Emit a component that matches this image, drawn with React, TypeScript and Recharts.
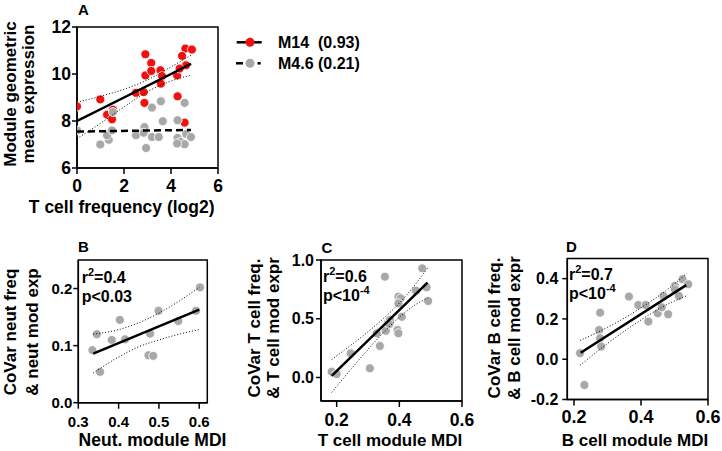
import React from "react";
import { ComposedChart, Scatter, XAxis, YAxis, ReferenceArea } from "recharts";

const FONT = '"Liberation Sans", Arial, Helvetica, sans-serif';
const RED = "#f2100f";
const GRAY = "#a8a8a8";

// A: module expression vs T cell frequency
const m14X = [0, 0.99, 1.28, 1.49, 1.53, 2.51, 2.84, 2.87, 2.91, 2.91, 3.16, 3.16, 3.55, 3.62, 3.57, 4.26, 4.28, 4.58, 4.61, 4.89, 4.47, 4.64, 4.37];
const m14Y = [8.62, 8.92, 8.27, 8.07, 8.48, 9.2, 9.23, 8.77, 10.84, 9.94, 10.47, 10.13, 10.16, 9.91, 9.59, 9.94, 9.05, 7.93, 11.08, 11.04, 10.77, 10.37, 10.23];
const m46X = [0, 0.99, 1.35, 1.28, 1.49, 1.53, 2.51, 2.87, 2.84, 2.94, 3.19, 3.19, 3.48, 3.57, 3.65, 4.28, 4.28, 4.4, 4.58, 4.58, 4.65, 4.85, 4.26];
const m46Y = [7.6, 7.0, 7.2, 7.39, 7.6, 8.38, 7.39, 7.74, 7.5, 6.85, 7.32, 8.57, 7.32, 8.84, 7.99, 8.03, 7.28, 7.11, 7.01, 8.77, 7.45, 7.32, 7.04];
const m14FitX = [0, 1, 2, 3, 4, 4.85];
const m14Fit = [8.0, 8.5, 9.0, 9.5, 10.0, 10.44];
const m14Upper = [8.8, 9.05, 9.35, 9.75, 10.3, 10.8];
const m14Lower = [7.25, 7.9, 8.6, 9.25, 9.7, 9.95];
const m46FitX = [0, 4.85];
const m46Fit = [7.55, 7.62];

// B: neutrophil module
const bX = [0.335, 0.346, 0.354, 0.383, 0.403, 0.416, 0.478, 0.474, 0.486, 0.499, 0.548, 0.592, 0.602];
const bY = [0.092, 0.12, 0.054, 0.11, 0.145, 0.111, 0.121, 0.083, 0.082, 0.161, 0.143, 0.161, 0.202];
const bFitX = [0.337, 0.6];
const bFit = [0.086, 0.163];
const bBandX = [0.337, 0.4, 0.45, 0.5, 0.55, 0.6];
const bUpper = [0.12, 0.128, 0.14, 0.157, 0.178, 0.202];
const bLower = [0.052, 0.08, 0.098, 0.11, 0.12, 0.128];

// C: T cell module
const cX = [0.184, 0.2, 0.245, 0.306, 0.338, 0.328, 0.354, 0.357, 0.365, 0.37, 0.368, 0.394, 0.397, 0.397, 0.404, 0.397, 0.408, 0.453, 0.473, 0.487, 0.492];
const cY = [0.049, 0.03, 0.206, 0.078, 0.268, 0.376, 0.858, 0.398, 0.475, 0.489, 0.455, 0.404, 0.376, 0.688, 0.674, 0.631, 0.517, 0.739, 0.929, 0.768, 0.651];
const cFitX = [0.184, 0.49];
const cFit = [0.013, 0.807];
const cBandX = [0.184, 0.25, 0.3, 0.35, 0.4, 0.45, 0.49];
const cUpper = [0.153, 0.284, 0.389, 0.504, 0.633, 0.788, 0.93];
const cLower = [-0.127, 0.084, 0.239, 0.384, 0.513, 0.618, 0.675];

// D: B cell module
const dX = [0.218, 0.231, 0.275, 0.278, 0.278, 0.281, 0.364, 0.392, 0.414, 0.422, 0.45, 0.462, 0.467, 0.481, 0.501, 0.501, 0.513, 0.524, 0.541];
const dY = [0.03, -0.128, 0.145, 0.231, 0.104, 0.063, 0.311, 0.269, 0.269, 0.187, 0.228, 0.258, 0.314, 0.223, 0.364, 0.347, 0.314, 0.397, 0.372];
const dFitX = [0.22, 0.535];
const dFit = [0.032, 0.368];
const dBandX = [0.218, 0.3, 0.4, 0.47, 0.536];
const dUpper = [0.093, 0.158, 0.255, 0.335, 0.425];
const dLower = [-0.031, 0.078, 0.195, 0.265, 0.315];

const zip = (xs: number[], ys: number[]) => xs.map((x, i) => ({ x, y: ys[i] }));

const dots = (xs: number[], ys: number[], color: string, key: string) => (
  <Scatter
    key={key}
    data={zip(xs, ys)}
    fill={color}
    isAnimationActive={false}
    shape={(p: any) => <circle cx={p.cx} cy={p.cy} r={4.5} fill={color} stroke="#fff" strokeWidth={0.8} />}
  />
);

const curve = (xs: number[], ys: number[], key: string, style: any) => (
  <Scatter
    key={key}
    data={zip(xs, ys)}
    line={{ stroke: "#000", fill: "none", ...style }}
    lineJointType="monotoneX"
    shape={() => <g />}
    isAnimationActive={false}
  />
);

const SOLID = { strokeWidth: 2.5 };
const DOTTED = { strokeWidth: 1, strokeDasharray: "1 2" };

type PanelProps = {
  box: number[];
  plot: number[];
  xDomain: number[];
  yDomain: number[];
  xTicks: number[];
  yTicks: number[];
  xDigits: number;
  yDigits: number;
  xFont: number;
  yFont: number;
  xMargin: number;
  yMargin: number;
  children: React.ReactNode;
};

function Panel(p: PanelProps) {
  const [cl, ct, cw, ch] = p.box;
  const [pl, pt, pr, pb] = p.plot;
  const tickStyle = (fs: number) => ({ fill: "#000", fontSize: fs, fontWeight: 700, fontFamily: FONT });
  return (
    <div style={{ position: "absolute", left: cl, top: ct }}>
      <ComposedChart
        width={cw}
        height={ch}
        margin={{ top: pt - ct, right: cl + cw - pr, left: 0, bottom: 0 }}
      >
        <ReferenceArea
          x1={p.xDomain[0]}
          x2={p.xDomain[1]}
          y1={p.yDomain[0]}
          y2={p.yDomain[1]}
          fill="none"
          stroke="#000"
          strokeWidth={1.5}
          ifOverflow="visible"
        />
        <XAxis
          type="number"
          dataKey="x"
          domain={p.xDomain}
          ticks={p.xTicks}
          interval={0}
          allowDataOverflow
          height={ct + ch - pb}
          tickSize={6}
          tickMargin={p.xMargin}
          tick={tickStyle(p.xFont)}
          tickFormatter={(v: number) => v.toFixed(p.xDigits)}
          axisLine={{ stroke: "#000", strokeWidth: 1.5 }}
          tickLine={{ stroke: "#000", strokeWidth: 1.5 }}
        />
        <YAxis
          type="number"
          dataKey="y"
          domain={p.yDomain}
          ticks={p.yTicks}
          interval={0}
          allowDataOverflow
          width={pl - cl}
          tickSize={5}
          tickMargin={p.yMargin}
          tick={tickStyle(p.yFont)}
          tickFormatter={(v: number) => v.toFixed(p.yDigits)}
          axisLine={{ stroke: "#000", strokeWidth: 1.5 }}
          tickLine={{ stroke: "#000", strokeWidth: 1.5 }}
        />
        {p.children}
      </ComposedChart>
    </div>
  );
}

const T = { fontFamily: FONT, fontWeight: 700, fill: "#000" } as const;

function Stats({ x, y, r2, p }: { x: number; y: number; r2: string; p: React.ReactNode }) {
  return (
    <g>
      <text x={x} y={y} fontSize={16} {...T}>
        r<tspan dy={-7} fontSize={11}>2</tspan>
        <tspan dy={7}>={r2}</tspan>
      </text>
      <text x={x} y={y + 19} fontSize={16} {...T}>
        {p}
      </text>
    </g>
  );
}

const pExp = (
  <>
    p&lt;10<tspan dy={-7} fontSize={11}>-4</tspan>
  </>
);

function YTitle({ x1, x2, cy, lines }: { x1: number; x2: number; cy: number; lines: string[] }) {
  return (
    <g>
      <text transform={`translate(${x1},${cy}) rotate(-90)`} textAnchor="middle" fontSize={17} {...T}>
        {lines[0]}
      </text>
      <text transform={`translate(${x2},${cy}) rotate(-90)`} textAnchor="middle" fontSize={17} {...T}>
        {lines[1]}
      </text>
    </g>
  );
}

export default function App() {
  return (
    <div style={{ position: "fixed", left: 0, top: 0, width: 722, height: 451, background: "#fff", overflow: "hidden" }}>
      <Panel
        box={[0, 0, 230, 200]}
        plot={[77, 27, 218, 168]}
        xDomain={[0, 6]}
        yDomain={[6, 12]}
        xTicks={[0, 2, 4, 6]}
        yTicks={[6, 8, 10, 12]}
        xDigits={0}
        yDigits={0}
        xFont={17.5}
        yFont={17.5}
        xMargin={6}
        yMargin={1}
      >
        {dots(m14X, m14Y, RED, "m14")}
        {dots(m46X, m46Y, GRAY, "m46")}
        {curve(m14FitX, m14Upper, "m14u", DOTTED)}
        {curve(m14FitX, m14Lower, "m14l", DOTTED)}
        {curve(m14FitX, m14Fit, "m14f", SOLID)}
        {curve(m46FitX, m46Fit, "m46f", { strokeWidth: 2.5, strokeDasharray: "7 4" })}
      </Panel>

      <Panel
        box={[0, 230, 215, 221]}
        plot={[78.3, 260, 207.3, 402.7]}
        xDomain={[0.3, 0.62]}
        yDomain={[0, 0.25]}
        xTicks={[0.3, 0.4, 0.5, 0.6]}
        yTicks={[0, 0.1, 0.2]}
        xDigits={1}
        yDigits={1}
        xFont={15}
        yFont={15}
        xMargin={8}
        yMargin={1}
      >
        {dots(bX, bY, GRAY, "b")}
        {curve(bBandX, bUpper, "bu", DOTTED)}
        {curve(bBandX, bLower, "bl", DOTTED)}
        {curve(bFitX, bFit, "bf", SOLID)}
      </Panel>

      <Panel
        box={[250, 230, 225, 221]}
        plot={[321, 260, 462, 401]}
        xDomain={[0.15, 0.6]}
        yDomain={[-0.2, 1.0]}
        xTicks={[0.2, 0.4, 0.6]}
        yTicks={[0, 0.5, 1.0]}
        xDigits={1}
        yDigits={1}
        xFont={17.5}
        yFont={16}
        xMargin={6.5}
        yMargin={2}
      >
        {dots(cX, cY, GRAY, "c")}
        {curve(cBandX, cUpper, "cu", DOTTED)}
        {curve(cBandX, cLower, "cl", DOTTED)}
        {curve(cFitX, cFit, "cf", SOLID)}
      </Panel>

      <Panel
        box={[490, 230, 232, 221]}
        plot={[567.3, 258.5, 708, 399.5]}
        xDomain={[0.18, 0.6]}
        yDomain={[-0.2, 0.5]}
        xTicks={[0.2, 0.4, 0.6]}
        yTicks={[-0.2, 0, 0.2, 0.4]}
        xDigits={1}
        yDigits={1}
        xFont={18}
        yFont={16}
        xMargin={5}
        yMargin={4}
      >
        {dots(dX, dY, GRAY, "d")}
        {curve(dBandX, dUpper, "du", DOTTED)}
        {curve(dBandX, dLower, "dl", DOTTED)}
        {curve(dFitX, dFit, "df", SOLID)}
      </Panel>

      <svg width={722} height={451} style={{ position: "absolute", left: 0, top: 0, pointerEvents: "none" }}>
        {/* panel letters */}
        <text x={78} y={15} fontSize={15} {...T}>A</text>
        <text x={78} y={251.5} fontSize={15} {...T}>B</text>
        <text x={321.5} y={253} fontSize={15} {...T}>C</text>
        <text x={566} y={252} fontSize={15} {...T}>D</text>

        {/* legend A */}
        <line x1={236.7} x2={261.7} y1={42.3} y2={42.3} stroke="#000" strokeWidth={2.5} />
        <circle cx={250} cy={42.3} r={4.5} fill={RED} />
        <text x={278} y={48} fontSize={16} {...T} xmlSpace="preserve">M14  (0.93)</text>
        <line x1={236} x2={243} y1={63.3} y2={63.3} stroke="#000" strokeWidth={2.5} />
        <line x1={257.5} x2={260.7} y1={63.3} y2={63.3} stroke="#000" strokeWidth={2.5} />
        <circle cx={250} cy={63.3} r={4.5} fill={GRAY} />
        <text x={278} y={69} fontSize={16} {...T}>M4.6 (0.21)</text>

        {/* axis titles */}
        <text x={121.7} y={213} textAnchor="middle" fontSize={17.5} {...T}>T cell frequency (log2)</text>
        <YTitle x1={15.7} x2={33.5} cy={94} lines={["Module geometric", "mean expression"]} />

        <text x={152.5} y={446} textAnchor="middle" fontSize={17.5} {...T}>Neut. module MDI</text>
        <YTitle x1={15.5} x2={38} cy={332} lines={["CoVar neut freq", "& neut mod exp"]} />

        <text x={390} y={446} textAnchor="middle" fontSize={17} {...T}>T cell module MDI</text>
        <YTitle x1={259.5} x2={278.5} cy={328} lines={["CoVar T cell freq.", "& T cell mod expr"]} />

        <text x={635} y={446} textAnchor="middle" fontSize={17} {...T}>B cell module MDI</text>
        <YTitle x1={499.5} x2={520} cy={328} lines={["CoVar B cell freq.", "& B cell mod expr"]} />

        {/* stats */}
        <Stats x={81.7} y={283} r2="0.4" p="p<0.03" />
        <Stats x={323} y={282} r2="0.6" p={pExp} />
        <Stats x={569} y={280} r2="0.7" p={pExp} />
      </svg>
    </div>
  );
}
